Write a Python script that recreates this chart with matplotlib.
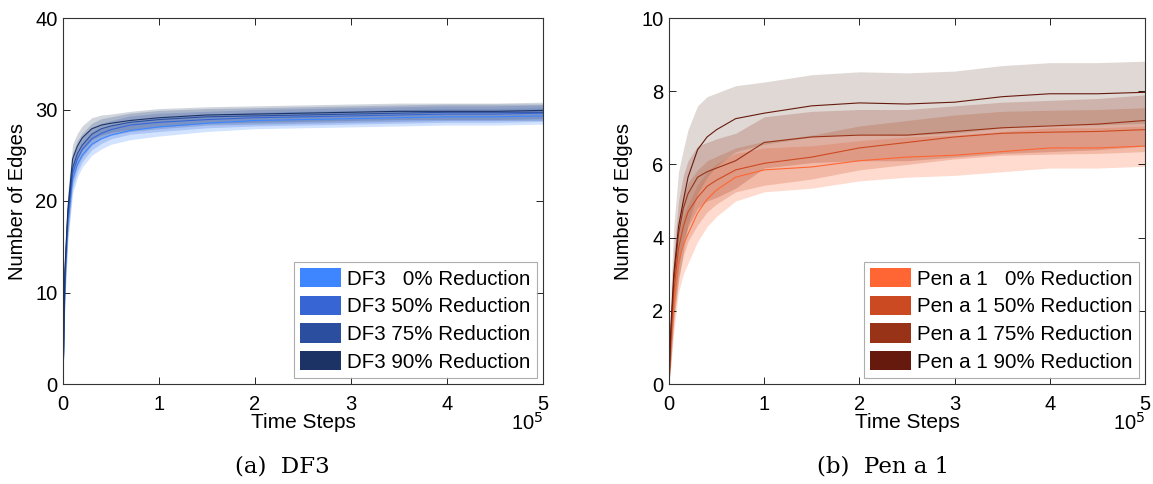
import matplotlib
matplotlib.use("Agg")
import matplotlib.pyplot as plt
from matplotlib.patches import Patch
import numpy as np

# Time steps (x 1e5)
t = [0, 0.02, 0.05, 0.1, 0.15, 0.2, 0.3, 0.4, 0.5, 0.7, 1.0, 1.5, 2.0, 2.5, 3.0, 3.5, 4.0, 4.5, 5.0]

# DF3 mean curves
df3_0 = [0, 11, 17.5, 22.4, 24.0, 25.0, 26.2, 26.8, 27.2, 27.7, 28.1, 28.5, 28.8, 28.9, 29.0, 29.1, 29.2, 29.2, 29.3]
df3_50 = [0, 11.5, 18.0, 23.0, 24.6, 25.6, 26.8, 27.4, 27.8, 28.3, 28.6, 28.9, 29.1, 29.2, 29.3, 29.4, 29.5, 29.5, 29.6]
df3_75 = [0, 12, 18.5, 23.6, 25.2, 26.1, 27.3, 27.9, 28.2, 28.6, 28.9, 29.2, 29.3, 29.4, 29.5, 29.6, 29.7, 29.7, 29.7]
df3_90 = [0, 12.5, 19.0, 24.6, 26.0, 26.9, 27.9, 28.3, 28.5, 28.8, 29.1, 29.4, 29.5, 29.6, 29.7, 29.8, 29.8, 29.8, 29.9]
df3_hw = [0, 2.0, 2.0, 1.6, 1.4, 1.3, 1.2, 1.1, 1.0, 1.0, 1.0, 0.9, 0.9, 0.9, 0.9, 0.9, 0.9, 0.9, 0.9]

# Pen a 1 mean curves
pen_0 = [0, 1.0, 2.1, 3.3, 3.8, 4.1, 4.67, 5.05, 5.3, 5.65, 5.85, 5.93, 6.1, 6.2, 6.25, 6.35, 6.45, 6.45, 6.5]
pen_50 = [0, 1.2, 2.5, 3.7, 4.3, 4.7, 5.1, 5.4, 5.57, 5.85, 6.03, 6.2, 6.45, 6.6, 6.75, 6.85, 6.88, 6.9, 6.95]
pen_75 = [0, 1.4, 2.8, 4.1, 4.8, 5.2, 5.65, 5.8, 5.9, 6.1, 6.6, 6.75, 6.8, 6.8, 6.9, 7.0, 7.05, 7.1, 7.2]
pen_90 = [0, 1.6, 3.0, 4.3, 5.0, 5.65, 6.4, 6.75, 6.95, 7.25, 7.4, 7.6, 7.68, 7.65, 7.7, 7.85, 7.93, 7.93, 7.97]
pen_0_hw = [0, 0.5, 0.7, 0.8, 0.8, 0.8, 0.78, 0.75, 0.72, 0.65, 0.6, 0.58, 0.55, 0.55, 0.55, 0.55, 0.55, 0.55, 0.55]
pen_50_hw = [0, 0.5, 0.7, 0.8, 0.8, 0.8, 0.75, 0.7, 0.65, 0.6, 0.6, 0.6, 0.6, 0.6, 0.6, 0.6, 0.6, 0.6, 0.6]
pen_75_hw = [0, 0.6, 0.8, 0.9, 0.9, 0.9, 0.85, 0.8, 0.8, 0.75, 0.7, 0.7, 0.7, 0.7, 0.7, 0.7, 0.7, 0.7, 0.7]
pen_90_hw = [0, 1.0, 1.3, 1.5, 1.4, 1.3, 1.2, 1.1, 1.0, 0.9, 0.85, 0.85, 0.85, 0.85, 0.85, 0.85, 0.85, 0.85, 0.85]

df3_labels = ["DF3   0% Reduction", "DF3 50% Reduction", "DF3 75% Reduction", "DF3 90% Reduction"]
pen_labels = ["Pen a 1   0% Reduction", "Pen a 1 50% Reduction", "Pen a 1 75% Reduction", "Pen a 1 90% Reduction"]
blue_colors = ["#3d86ff", "#3766d4", "#2b4f9e", "#1c3366"]
red_colors = ["#ff6633", "#cc4a22", "#993318", "#661a0e"]
blue_band = ["#3d86ff", "#3766d4", "#2b4f9e", "#3a4a6a"]
red_band = ["#ff6633", "#cc4a22", "#993318", "#7a5a48"]

xticks = [0, 1, 2, 3, 4, 5]
df3_yticks = [0, 10, 20, 30, 40]
pen_yticks = [0, 2, 4, 6, 8, 10]

plt.rcParams['font.family'] = ['Liberation Sans', 'DejaVu Sans']

W, H = 1153, 484
fig = plt.figure(figsize=(W / 100, H / 100), dpi=100)
axL = fig.add_axes([63 / W, 100 / H, 480 / W, 366 / H])
axR = fig.add_axes([669 / W, 100 / H, 476 / W, 366 / H])


def panel(ax, means, hws, colors, bands, labels, yticks, caption, cap_x):
    tt = np.array(t)
    for m, hw, c in zip(means, hws, bands):
        m = np.array(m); hw = np.array(hw)
        ax.fill_between(tt, m - hw, m + hw, color=c, alpha=0.23, lw=0)
    for m, c in zip(means, colors):
        ax.plot(tt, m, color=c, lw=0.8)
    ax.set_xlim(0, 5)
    ax.set_ylim(yticks[0], yticks[-1])
    ax.set_xticks(xticks)
    ax.set_yticks(yticks)
    ax.tick_params(direction='in', top=True, right=True, labelsize=14.5, length=5, width=0.6, pad=8)
    ax.tick_params(axis='y', pad=4)
    for s in ax.spines.values():
        s.set_linewidth(0.8)
        s.set_color('#333333')
    ax.set_xlabel("Time Steps", fontsize=15, labelpad=-1)
    ax.set_ylabel("Number of Edges", fontsize=14.5, labelpad=6)
    ax.text(1.0, -0.105, r"10$^5$", transform=ax.transAxes, ha='right', va='center', fontsize=14.5)
    handles = [Patch(facecolor=c, edgecolor='none') for c in colors]
    leg = ax.legend(handles, labels, loc='lower right', fontsize=14.8, frameon=True, fancybox=False,
                    handlelength=2.0, handleheight=1.07, handletextpad=0.3, labelspacing=0.34,
                    borderpad=0.3, borderaxespad=0.3)
    leg.get_frame().set_edgecolor('#999999')
    leg.get_frame().set_linewidth(0.8)
    fig.text(cap_x, (H - 466) / H, caption, ha='center', va='center',
             fontsize=16.5, family='DejaVu Serif')


panel(axL, [df3_0, df3_50, df3_75, df3_90], [df3_hw] * 4, blue_colors, blue_band, df3_labels,
      df3_yticks, "(a)  DF3", 282 / W)
panel(axR, [pen_0, pen_50, pen_75, pen_90], [pen_0_hw, pen_50_hw, pen_75_hw, pen_90_hw],
      red_colors, red_band, pen_labels, pen_yticks, "(b)  Pen a 1", 883 / W)

fig.savefig("out.png", dpi=100)
